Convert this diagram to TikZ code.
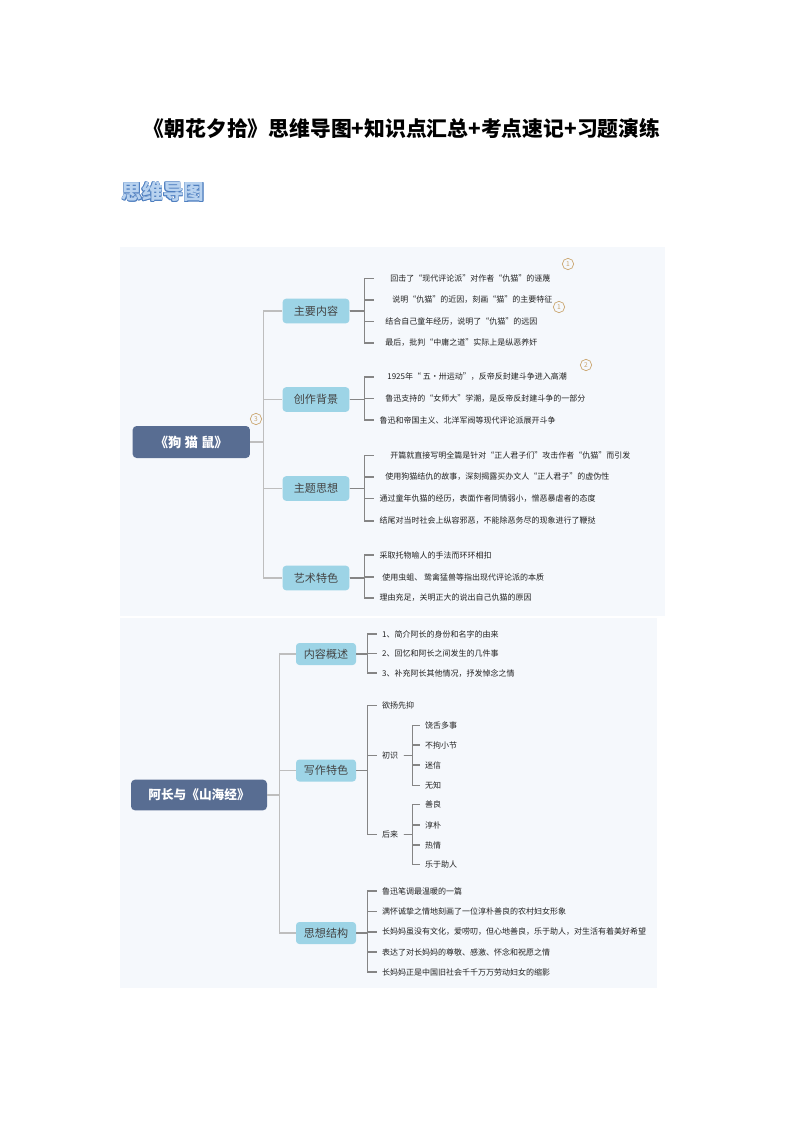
\documentclass[tikz,border=0pt]{standalone}
\usepackage{fontspec}
\setmainfont{Noto Sans CJK SC}
\usetikzlibrary{positioning}
\definecolor{RootBlue}  {HTML}{586D92}
\definecolor{BranchCyan}{HTML}{9DD4E6}
\definecolor{PanelBg}   {HTML}{F5F8FC}
\definecolor{TrunkGrey} {HTML}{BEBEBE}
\definecolor{TickGrey}  {HTML}{858585}
\definecolor{MarkTan}   {HTML}{C9A46C}
\definecolor{HeadBlue}  {HTML}{4F7FC0}
\definecolor{HeadLight} {HTML}{B8D2EF}
\definecolor{Ink}       {HTML}{222222}

\tikzset{
  rootbox/.style={fill=RootBlue, rounded corners=3pt, text=white, inner sep=0pt,
                  font=\fontsize{10}{12}\selectfont\bfseries,
                  minimum width=88pt, minimum height=24pt},
  branchbox/.style={fill=BranchCyan, rounded corners=2.5pt, text=Ink!85, inner sep=0pt,
                    font=\fontsize{8.3}{10}\selectfont,
                    minimum width=50pt, minimum height=18.4pt},
  branchsmall/.style={branchbox, minimum width=45pt, minimum height=16.5pt},
  leaf/.style={anchor=west, inner xsep=4pt, inner ysep=1pt, text=Ink,
               font=\fontsize{6}{7}\selectfont},
  trunk/.style={draw=TrunkGrey, line width=0.9pt},
  tick/.style={draw=TickGrey, line width=0.9pt},
  marker/.style={circle, draw=MarkTan, line width=0.5pt, text=MarkTan, inner sep=0pt,
                 minimum size=8.5pt, font=\fontsize{5}{5}\selectfont},
}

\begin{document}
\begin{tikzpicture}[x=0.75pt, y=-0.75pt]
  \useasboundingbox[fill=white] (0,0) rectangle (794,1123);
  % Title and heading
  \node[font=\fontsize{15.6}{18}\selectfont\bfseries] (title) at (402,129)
       {《朝花夕拾》思维导图+知识点汇总+考点速记+习题演练};
  \foreach \dx/\dy [count=\k] in {0.4/0, -0.4/0, 0/0.4, 0/-0.4, 0.3/0.3, -0.3/0.3, 0.3/-0.3, -0.3/-0.3}
    \node[text=HeadBlue, font=\fontsize{15.5}{18}\selectfont\bfseries,
          xshift=\dx pt, yshift=\dy pt] (headrim\k) at (163,192) {思维导图};
  \node[text=HeadLight, font=\fontsize{15.5}{18}\selectfont\bfseries] (head) at (163,192) {思维导图};

  % Panels
  \fill[PanelBg] (120,247) rectangle (665,616);
  \fill[PanelBg] (120,618) rectangle (657,988);

  % ---- Part one ----
  \node[rootbox] (gms) at (191.3,442) {《狗 猫 鼠》};
  \node[branchbox] (zynr) at (316,311)   {主要内容};
  \node[branchbox] (czbj) at (316,399.5) {创作背景};
  \node[branchbox] (ztsx) at (316,488.5) {主题思想};
  \node[branchbox] (ystc) at (316,578)   {艺术特色};

  \node[leaf] (zynr1) at (374,278.4) {\hspace{8pt}回击了“现代评论派”对作者“仇猫”的诬蔑};
  \node[leaf] (zynr2) at (374,300)   {\hspace{9.5pt}说明“仇猫”的近因，刻画“猫”的主要特征};
  \node[leaf] (zynr3) at (374,321.4) {\hspace{4.3pt}结合自己童年经历，说明了“仇猫”的远因};
  \node[leaf] (zynr4) at (374,343)   {\hspace{4.3pt}最后，批判“中庸之道”实际上是纵恶养奸};

  \node[leaf] (czbj1) at (374,377)   {\hspace{5.8pt}1925年“ 五·卅运动”，反帝反封建斗争进入高潮};
  \node[leaf] (czbj2) at (374,398.7) {\hspace{4.3pt}鲁迅支持的“女师大”学潮，是反帝反封建斗争的一部分};
  \node[leaf] (czbj3) at (374,420)   {鲁迅和帝国主义、北洋军阀等现代评论派展开斗争};

  \node[leaf] (ztsx1) at (374,455.5) {\hspace{8pt}开篇就直接写明全篇是针对“正人君子们”攻击作者“仇猫”而引发};
  \node[leaf] (ztsx2) at (374,477)   {\hspace{4.3pt}使用狗猫结仇的故事，深刻揭露买办文人“正人君子”的虚伪性};
  \node[leaf] (ztsx3) at (374,498.5) {通过童年仇猫的经历，表面作者同情弱小，憎恶暴虐者的态度};
  \node[leaf] (ztsx4) at (374,521)   {结尾对当时社会上纵容邪恶，不能除恶务尽的现象进行了鞭挞};

  \node[leaf] (ystc1) at (374,555) {采取托物喻人的手法而环环相扣};
  \node[leaf] (ystc2) at (374,577) {\hspace{2pt}使用虫蛆、 鸷禽猛兽等指出现代评论派的本质};
  \node[leaf] (ystc3) at (374,598) {理由充足，关明正大的说出自己仇猫的原因};

  \node[marker] (mk1) at (568,264) {1};
  \node[marker] (mk2) at (559,307) {1};
  \node[marker] (mk3) at (586,365) {2};
  \node[marker] (mk4) at (256,419) {3};

  \draw[trunk] (gms.east) -- ++(13,0) coordinate (gms-t);
  \foreach \b in {zynr,czbj,ztsx,ystc}
    \draw[trunk] (gms-t) |- (\b.west);
  \foreach \l in {zynr1,zynr2,zynr3,zynr4}
    \draw[tick] (zynr.east) -- ++(14.5,0) |- (\l.west);
  \foreach \l in {czbj1,czbj2,czbj3}
    \draw[tick] (czbj.east) -- ++(14.5,0) |- (\l.west);
  \foreach \l in {ztsx1,ztsx2,ztsx3,ztsx4}
    \draw[tick] (ztsx.east) -- ++(14.5,0) |- (\l.west);
  \foreach \l in {ystc1,ystc2,ystc3}
    \draw[tick] (ystc.east) -- ++(14.5,0) |- (\l.west);

  % ---- Part two ----
  \node[rootbox, minimum width=102pt, minimum height=23pt,
        font=\fontsize{9.5}{11}\selectfont\bfseries] (azsh) at (199,795) {阿长与《山海经》};
  \node[branchsmall] (nrgs) at (326,654)   {内容概述};
  \node[branchsmall] (xztc) at (326,770.5) {写作特色};
  \node[branchsmall] (sxjg) at (326,933)   {思想结构};

  \node[leaf] (nrgs1) at (376.5,634)   {1、简介阿长的身份和名字的由来};
  \node[leaf] (nrgs2) at (376.5,653.6) {2、回忆和阿长之间发生的几件事};
  \node[leaf] (nrgs3) at (376.5,673)   {3、补充阿长其他情况，抒发悼念之情};

  \node[leaf] (ysxy) at (376.5,705.5) {欲扬先抑};
  \node[leaf] (cs)   at (376.5,755.4) {初识};
  \node[leaf] (hl)   at (376.5,834.6) {后来};
  \node[leaf] (cs1) at (419.6,725.5) {饶舌多事};
  \node[leaf] (cs2) at (419.6,745)   {不拘小节};
  \node[leaf] (cs3) at (419.6,765)   {迷信};
  \node[leaf] (cs4) at (419.6,785.4) {无知};
  \node[leaf] (hl1) at (419.6,804.7) {善良};
  \node[leaf] (hl2) at (419.6,825)   {淳朴};
  \node[leaf] (hl3) at (419.6,845)   {热情};
  \node[leaf] (hl4) at (419.6,864.6) {乐于助人};

  \node[leaf] (sxjg1) at (376.5,891)   {鲁迅笔调最温暖的一篇};
  \node[leaf] (sxjg2) at (376.5,911.5) {满怀诚挚之情地刻画了一位淳朴善良的农村妇女形象};
  \node[leaf] (sxjg3) at (376.5,932)   {长妈妈虽没有文化，爱唠叨，但心地善良，乐于助人，对生活有着美好希望};
  \node[leaf] (sxjg4) at (376.5,952)   {表达了对长妈妈的尊敬、感激、怀念和祝愿之情};
  \node[leaf] (sxjg5) at (376.5,972)   {长妈妈正是中国旧社会千千万万劳动妇女的缩影};

  \draw[trunk] (azsh.east) -- ++(12,0) coordinate (azsh-t);
  \foreach \b in {nrgs,xztc,sxjg}
    \draw[trunk] (azsh-t) |- (\b.west);
  \foreach \l in {nrgs1,nrgs2,nrgs3}
    \draw[tick] (nrgs.east) -- ++(11,0) |- (\l.west);
  \foreach \l in {ysxy,cs,hl}
    \draw[tick] (xztc.east) -- ++(11,0) |- (\l.west);
  \foreach \l in {cs1,cs2,cs3,cs4}
    \draw[tick] (cs.east) -- ++(9,0) |- (\l.west);
  \foreach \l in {hl1,hl2,hl3,hl4}
    \draw[tick] (hl.east) -- ++(9,0) |- (\l.west);
  \foreach \l in {sxjg1,sxjg2,sxjg3,sxjg4,sxjg5}
    \draw[tick] (sxjg.east) -- ++(11,0) |- (\l.west);
\end{tikzpicture}
\end{document}
